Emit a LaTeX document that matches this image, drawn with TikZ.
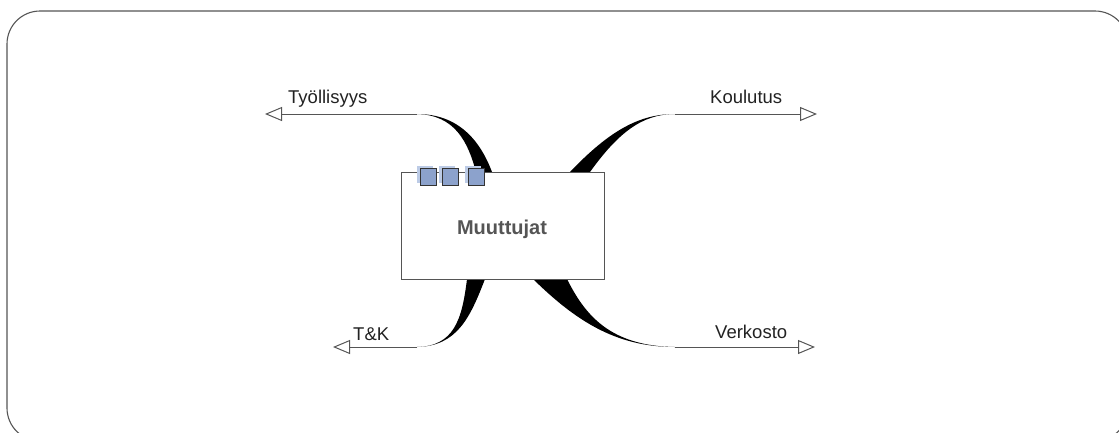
\documentclass[tikz,border=0pt]{standalone}
\usepackage{fontspec}
\setmainfont{Liberation Sans}
\usetikzlibrary{arrows.meta}
\definecolor{linegray}{HTML}{555555}
\definecolor{txtgray}{HTML}{222222}
\definecolor{boxtxt}{HTML}{555555}
\definecolor{sqfill}{HTML}{8CA2CC}
\definecolor{sqshadow}{HTML}{BCCBE6}
\begin{document}
\begin{tikzpicture}[x=1pt,y=-1pt,
  frame/.style={draw=linegray,line width=1.1pt,rounded corners=33pt},
  mainbox/.style={draw=linegray,line width=1pt,fill=white,minimum width=203pt,minimum height=107pt,inner sep=0pt},
  lbl/.style={text=txtgray,font=\fontsize{18.5}{20}\selectfont,anchor=base west,inner sep=0pt},
  branch/.style={draw=linegray,line width=1pt,-{Triangle[open,length=17pt,width=14pt]}},
  taper/.style={fill=black},
  sq/.style={draw=black!80,line width=0.8pt,fill=sqfill,minimum width=16pt,minimum height=17pt,inner sep=0pt},
  sqsh/.style={fill=sqshadow,minimum width=16pt,minimum height=17pt,inner sep=0pt}
]
\useasboundingbox (0,0) rectangle (1119,432);
\begin{scope}
\clip (0,0) rectangle (1119,432);
\draw[frame] (7,11) rectangle (1128,441);
\end{scope}

% junction coordinates and arrow tips
\coordinate (jA) at (417,114);
\coordinate (tA) at (265,114);
\coordinate (jB) at (675,114);
\coordinate (tB) at (817,114);
\coordinate (jC) at (417,347);
\coordinate (tC) at (333,347);
\coordinate (jD) at (675,347);
\coordinate (tD) at (815,347);

% tapered curves
\fill[taper] (jA) .. controls (458,114) and (480,140) .. (492,172) -- (476,172) .. controls (468,142) and (455,115) .. (jA);
\fill[taper] (jB) .. controls (640,114) and (610,130) .. (570,172) -- (590,172) .. controls (618,133) and (642,114) .. (jB);
\fill[taper] (jC) .. controls (454,346) and (462,320) .. (467,279) -- (485,279) .. controls (470,318) and (457,346) .. (jC);
\fill[taper] (jD) .. controls (615,347) and (575,320) .. (533,279) -- (567,279) .. controls (585,315) and (610,346) .. (jD);

% main box
\node[mainbox] (box) at (502.5,225.5) {};
\node[text=boxtxt,font=\bfseries\fontsize{20}{22}\selectfont,anchor=base,inner sep=0pt] (title) at (502,234) {Muuttujat};

% squares
\node[sqsh] (sh1) at (425,174.5) {};
\node[sqsh] (sh2) at (447,174.5) {};
\node[sqsh] (sh3) at (473,174.5) {};
\node[sq] (s1) at (428,176.5) {};
\node[sq] (s2) at (450,176.5) {};
\node[sq] (s3) at (476,176.5) {};

% branches
\draw[branch] (jA) -- (tA);
\draw[branch] (jB) -- (tB);
\draw[branch] (jC) -- (tC);
\draw[branch] (jD) -- (tD);

% labels
\node[lbl] (lA) at (288,103) {Työllisyys};
\node[lbl] (lB) at (710,103) {Koulutus};
\node[lbl] (lC) at (353,340) {T\&K};
\node[lbl] (lD) at (715,338) {Verkosto};
\end{tikzpicture}
\end{document}
